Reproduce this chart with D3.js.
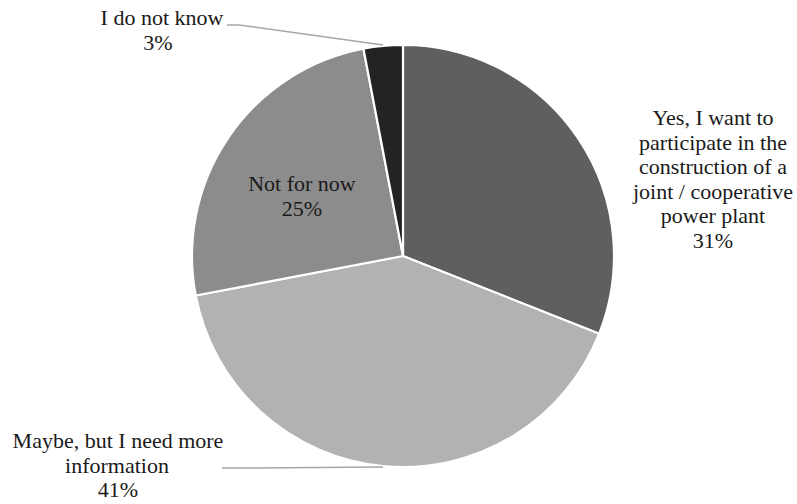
<!DOCTYPE html>
<html>
<head>
<meta charset="utf-8">
<script src="https://cdn.jsdelivr.net/npm/d3@7"></script>
<style>
  html, body { margin: 0; padding: 0; background: #fff; }
  svg text { font-family: "Liberation Serif", "DejaVu Serif", serif; fill: #1a1a1a; }
</style>
</head>
<body>
<svg id="chart" width="797" height="504"></svg>
<script>
// Survey answers, clockwise from 12 o'clock
const categories = [
  "Yes, I want to participate in the construction of a joint / cooperative power plant",
  "Maybe, but I need more information",
  "Not for now",
  "I do not know"
];
const values = [31, 41, 25, 3];
const colors = ["#5f5f5f", "#b2b2b2", "#8c8c8c", "#232323"];
// Wrapped label lines as they appear on the chart
const labelLines = [
  ["Yes, I want to", "participate in the", "construction of a", "joint / cooperative", "power plant"],
  ["Maybe, but I need more", "information"],
  ["Not for now"],
  ["I do not know"]
];

const W = 797, H = 504;
const cx = 403, cy = 256, R = 211;
const fontSize = 22, lineH = 24.5;

const svg = d3.select("#chart");
const g = svg.append("g").attr("transform", `translate(${cx},${cy})`);

const pie = d3.pie().sort(null).value(d => d.value);
const arcs = pie(values.map((v, i) => ({ value: v, i })));
const arc = d3.arc().innerRadius(0).outerRadius(R);

g.selectAll("path.slice")
  .data(arcs)
  .join("path")
  .attr("class", "slice")
  .attr("d", arc)
  .attr("fill", d => colors[d.data.i])
  .attr("stroke", "#fff")
  .attr("stroke-width", 2.2)
  .attr("stroke-linejoin", "round");

// Point on the rim at a slice's middle angle
function rimPoint(a, r) {
  const m = (a.startAngle + a.endAngle) / 2;
  return [Math.sin(m) * r, -Math.cos(m) * r];
}

// Label placement: first baseline and per-line centre x
const labelPos = [
  { y: 125, lines: [713, 713, 713, 713, 713, 713] },
  { y: 448, lines: [118, 117, 118] },
  { y: 191, lines: [302, 302] },
  { y: 25,  lines: [162, 158] }
];
const leaders = {
  1: { start: [222, 468], elbow: [240, 468] },
  3: { start: [227, 25],  elbow: [239, 25] }
};

const labels = svg.append("g");
arcs.forEach((a, i) => {
  const lines = labelLines[i].concat([values[i] + "%"]);
  const p = labelPos[i];
  const t = labels.append("text")
    .attr("font-size", fontSize)
    .attr("text-anchor", "middle");
  lines.forEach((ln, k) => {
    t.append("tspan")
      .attr("x", p.lines[k])
      .attr("y", p.y + k * lineH)
      .text(ln);
  });
});

// Leader lines from outside labels to their slices
const line = d3.line();
Object.keys(leaders).forEach(k => {
  const a = arcs[+k];
  const rp = rimPoint(a, R + 1);
  const end = [cx + rp[0], cy + rp[1]];
  const L = leaders[k];
  svg.append("path")
    .attr("d", line([L.start, L.elbow, end]))
    .attr("fill", "none")
    .attr("stroke", "#a6a6a6")
    .attr("stroke-width", 1.5);
});
</script>
</body>
</html>
